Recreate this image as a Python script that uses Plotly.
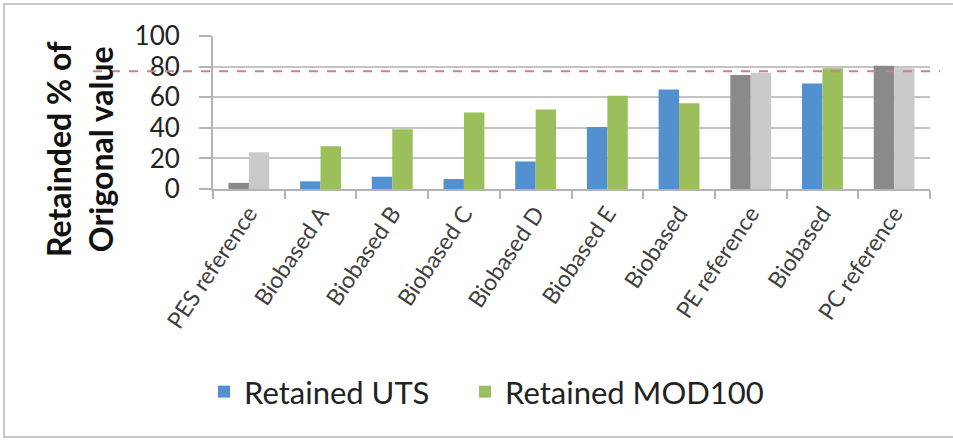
import plotly.graph_objects as go

categories = ["PES reference", "Biobased A", "Biobased B", "Biobased C", "Biobased D",
              "Biobased E", "Biobased", "PE reference", "Biobased", "PC reference"]
retained_uts = [4, 5, 8, 6.5, 18, 40.5, 65, 74.5, 69, 80.5]
retained_mod100 = [24, 28, 39, 50, 52, 61, 56, 76, 79, 79]
is_reference = [True, False, False, False, False, False, False, True, False, True]
threshold = 77
y_ticks = [0, 20, 40, 60, 80, 100]

BLUE = "#5290d0"
GREEN = "#9bbf5a"
DARK_GRAY = "#8a8a8a"
LIGHT_GRAY = "#cacaca"

x_pos = list(range(len(categories)))

def pick(values, want_ref):
    return [v if r == want_ref else None for v, r in zip(values, is_reference)]

fig = go.Figure()
fig.add_trace(go.Bar(x=x_pos, y=pick(retained_uts, False), name="Retained UTS",
                     offsetgroup="uts", legend="legend",
                     marker=dict(color=BLUE, line=dict(width=0))))
fig.add_trace(go.Bar(x=x_pos, y=pick(retained_uts, True), name="Retained UTS (reference)",
                     offsetgroup="uts", showlegend=False,
                     marker=dict(color=DARK_GRAY, line=dict(width=0))))
fig.add_trace(go.Bar(x=x_pos, y=pick(retained_mod100, False), name="Retained MOD100",
                     offsetgroup="mod", legend="legend2",
                     marker=dict(color=GREEN, line=dict(width=0))))
fig.add_trace(go.Bar(x=x_pos, y=pick(retained_mod100, True), name="Retained MOD100 (reference)",
                     offsetgroup="mod", showlegend=False,
                     marker=dict(color=LIGHT_GRAY, line=dict(width=0))))

W, H = 953, 440
L, R, T, B = 213, 23, 36, 251
pw = W - L - R
ph = H - T - B

def px_x(p):
    return (p - L) / pw

def px_y(p):
    return (H - B - p) / ph

# threshold dashed line
fig.add_shape(type="line", xref="paper", yref="y", x0=px_x(93), x1=px_x(940),
              y0=threshold, y1=threshold,
              line=dict(color="#d08080", width=2, dash="dash"), layer="above")

# outer frame
fig.add_shape(type="rect", xref="paper", yref="paper",
              x0=px_x(4), x1=px_x(970), y0=px_y(437), y1=px_y(4),
              line=dict(color="#c8c8c8", width=2), layer="below")

fig.add_annotation(text="<b>Retainded % of<br>Origonal value</b>", xref="paper", yref="paper",
                   x=px_x(79), y=px_y(149), textangle=-90, showarrow=False,
                   font=dict(family="Lato", size=32, color="#111111"),
                   xanchor="center", yanchor="middle")

legend_common = dict(orientation="h", xanchor="left", yanchor="middle",
                     font=dict(family="Lato", size=31, color="#222222"),
                     bgcolor="rgba(0,0,0,0)", borderwidth=0)

fig.update_layout(
    width=W, height=H,
    margin=dict(l=L, r=R, t=T, b=B),
    paper_bgcolor="white", plot_bgcolor="white",
    barmode="group", bargap=0.43, bargroupgap=0,
    font=dict(family="Lato", color="#222222"),
    showlegend=True,
    legend=dict(x=px_x(204), y=px_y(392), **legend_common),
    legend2=dict(x=px_x(465), y=px_y(392), **legend_common),
)

fig.update_yaxes(range=[0, 100], tickvals=y_ticks, showgrid=True, gridcolor="#c4c4c4", gridwidth=2,
                 showline=True, linecolor="#b4b4b4", linewidth=2,
                 ticks="outside", ticklen=12, tickcolor="#b4b4b4", tickwidth=2,
                 ticklabelstandoff=14,
                 tickfont=dict(family="Lato", size=26, color="#222222"), zeroline=False)

fig.update_xaxes(range=[-0.5, len(categories) - 0.5], tickvals=x_pos, ticktext=categories,
                 tickangle=-56, ticks="", showgrid=False, zeroline=False,
                 showline=True, linecolor="#b4b4b4", linewidth=2,
                 tickfont=dict(family="Lato", size=23, color="#404040"),
                 minor=dict(tick0=-0.5, dtick=1, ticks="outside", ticklen=8,
                            tickcolor="#b4b4b4", tickwidth=2, showgrid=False))

fig.write_html("out.html", post_script="document.body.style.margin='0';",
               config={"displayModeBar": False})
